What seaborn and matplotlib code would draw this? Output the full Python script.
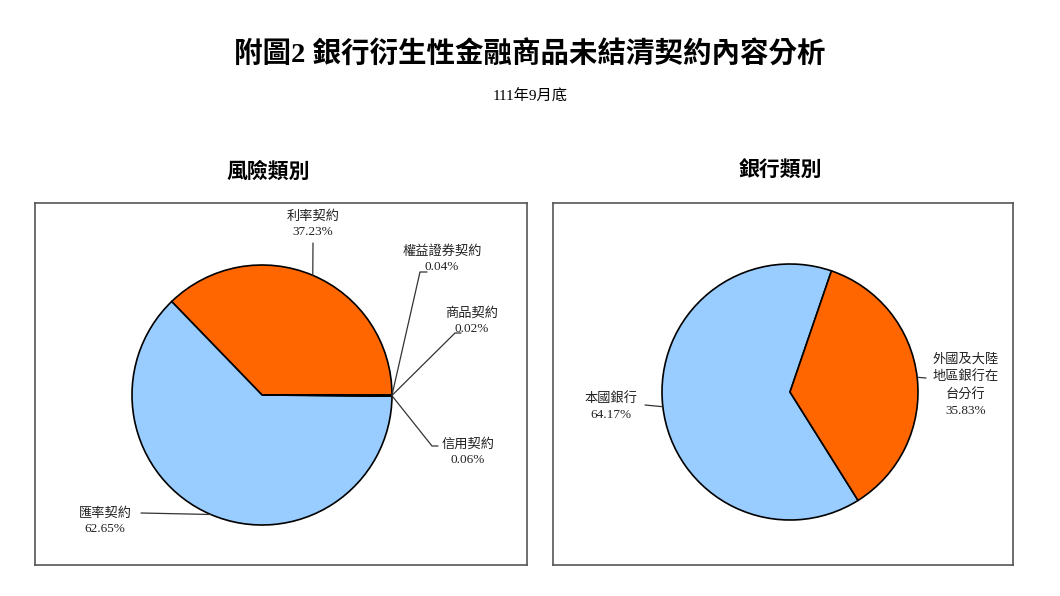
#!/usr/bin/env python3
"""Pie charts: outstanding bank derivative contracts, end of Sept. 111 (ROC)."""

import numpy as np
import matplotlib
matplotlib.use("Agg")
import matplotlib.pyplot as plt
import seaborn as sns

# risk category (left pie), in drawing order, counter-clockwise from 0 deg
RISK_LABELS = ["利率契約", "匯率契約", "信用契約", "商品契約", "權益證券契約"]
RISK_SHARES = [37.23, 62.65, 0.06, 0.02, 0.04]
RISK_COLORS = ["#FF6600", "#99CCFF", "#99CCFF", "#99CCFF", "#99CCFF"]

# bank category (right pie)
BANK_LABELS = ["本國銀行", "外國及大陸\n地區銀行在\n台分行"]
BANK_SHARES = [64.17, 35.83]
BANK_COLORS = ["#99CCFF", "#FF6600"]

TITLE = "附圖2 銀行衍生性金融商品未結清契約內容分析"
SUBTITLE = "111年9月底"
PANEL_TITLES = ["風險類別", "銀行類別"]

sns.set_theme(style="white")
FONTS = ["Liberation Serif", "Noto Sans CJK TC", "DejaVu Sans"]
plt.rcParams["font.family"] = FONTS
plt.rcParams["text.color"] = "black"


def edge_point(wedge, center, radius):
    mid = np.deg2rad((wedge.theta1 + wedge.theta2) / 2)
    return center[0] + radius * np.cos(mid), center[1] + radius * np.sin(mid)


def draw_pie(ax, shares, colors, start, center, radius):
    wedges, _ = ax.pie(shares, colors=colors, startangle=start, counterclock=True,
                       center=center, radius=radius, frame=True,
                       wedgeprops=dict(edgecolor="black", linewidth=1.2))
    return wedges


def leader(ax, start, points):
    xs = [start[0]] + [p[0] for p in points]
    ys = [start[1]] + [p[1] for p in points]
    ax.plot(xs, ys, color="#333333", lw=0.9)


def frame(ax, w, h):
    ax.set_xlim(0, w)
    ax.set_ylim(0, h)
    ax.set_aspect("equal")
    ax.set_xticks([])
    ax.set_yticks([])
    for s in ax.spines.values():
        s.set_visible(True)
        s.set_color("#555555")
        s.set_linewidth(1.2)


fig = plt.figure(figsize=(10.6, 5.96), dpi=100)
fig.text(0.5, 0.908, TITLE, ha="center", va="center", fontsize=20.5, fontweight="heavy")
fig.text(0.5, 0.837, SUBTITLE, ha="center", va="center", fontsize=11)
fig.text(0.253, 0.711, PANEL_TITLES[0], ha="center", va="center", fontsize=15, fontweight="heavy")
fig.text(0.736, 0.711, PANEL_TITLES[1], ha="center", va="center", fontsize=15, fontweight="heavy")

lab = dict(fontsize=9.5, ha="center", va="center", linespacing=1.45, color="#222222")

# left panel
ax1 = fig.add_axes([35 / 1060, 1 - 565 / 596, 492 / 1060, 362 / 596])
c1, r1 = (227, 170), 130
w1 = draw_pie(ax1, RISK_SHARES, RISK_COLORS, 0, c1, r1)
frame(ax1, 492, 362)

# label layout: (text position, leader bend points)
risk_layout = {
    "利率契約": ((278, 341), [(278, 322)]),
    "匯率契約": ((70, 44), [(106, 52)]),
    "信用契約": ((433, 113), [(397, 119), (403, 119)]),
    "商品契約": ((437, 244), [(420, 232), (426, 232)]),
    "權益證券契約": ((407, 306), [(385, 293), (392, 293)]),
}
for w, name, share in zip(w1, RISK_LABELS, RISK_SHARES):
    pos, bends = risk_layout[name]
    leader(ax1, edge_point(w, c1, r1), bends)
    ax1.text(pos[0], pos[1], f"{name}\n{share:.2f}%", **lab)

# right panel
ax2 = fig.add_axes([553 / 1060, 1 - 565 / 596, 460 / 1060, 362 / 596])
c2, r2 = (237, 173), 128
w2 = draw_pie(ax2, BANK_SHARES, BANK_COLORS, 71.1, c2, r2)
frame(ax2, 460, 362)

bank_layout = {
    BANK_LABELS[0]: ((58, 158), [(92, 160)]),
    BANK_LABELS[1]: ((413, 180), [(373, 187)]),
}
for w, name, share in zip(w2, BANK_LABELS, BANK_SHARES):
    pos, bends = bank_layout[name]
    leader(ax2, edge_point(w, c2, r2), bends)
    ax2.text(pos[0], pos[1], f"{name}\n{share:.2f}%", **lab)

fig.savefig("out.png", dpi=100, facecolor="white")
